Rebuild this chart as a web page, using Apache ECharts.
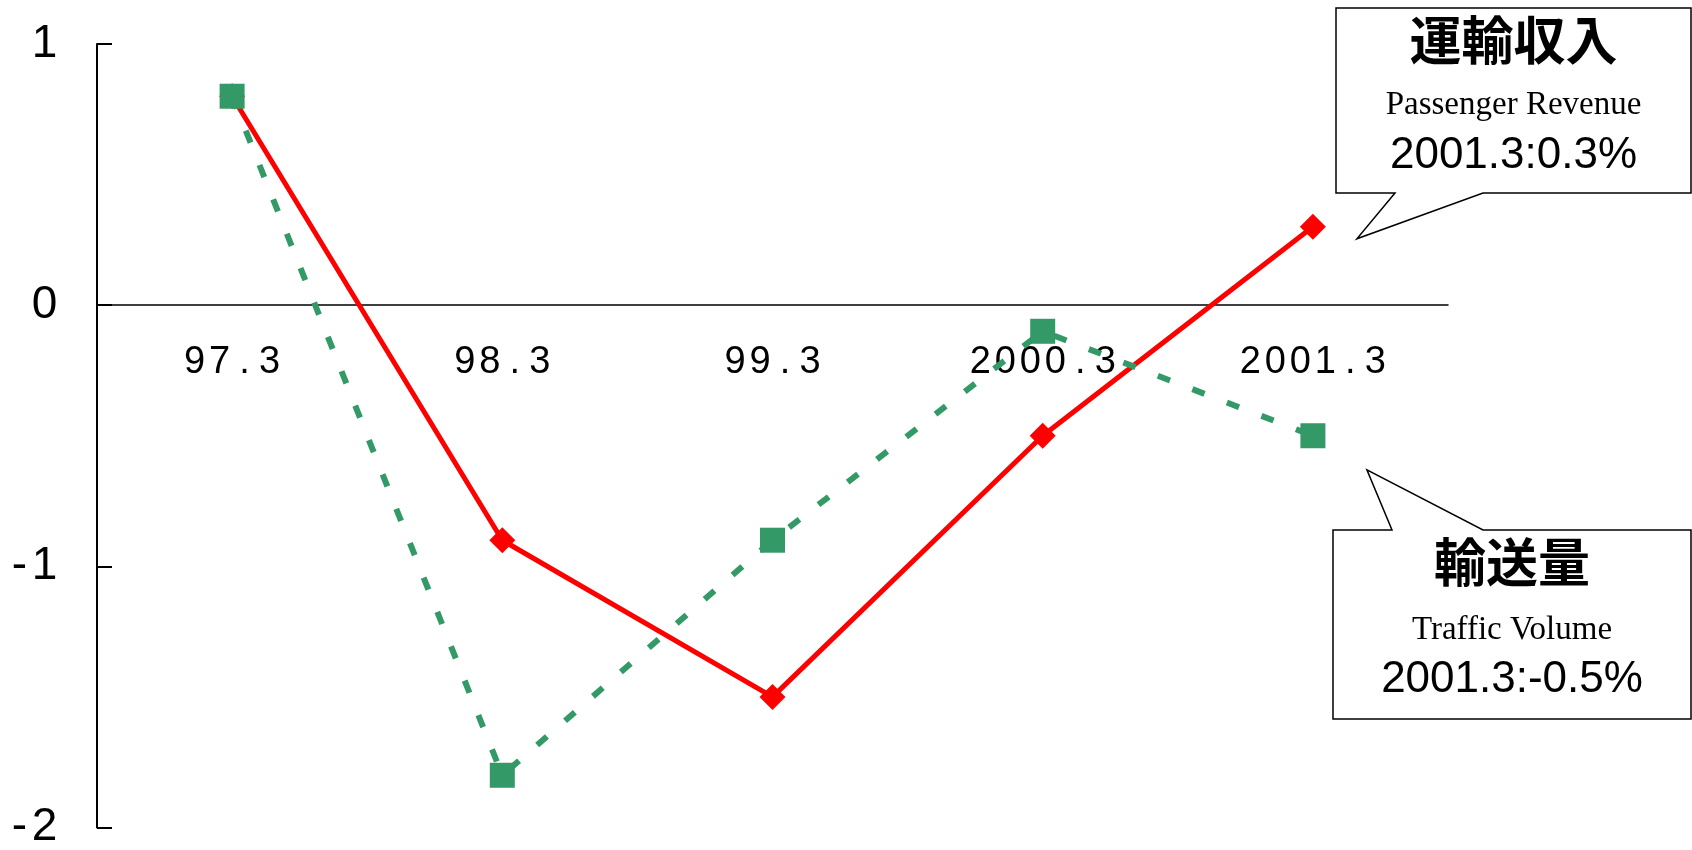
<!DOCTYPE html>
<html>
<head>
<meta charset="utf-8">
<title>運輸収入・輸送量</title>
<script src="https://cdn.jsdelivr.net/npm/echarts@6/dist/echarts.min.js"></script>
<style>
  html, body { margin: 0; padding: 0; background: #fff; }
  #chart { width: 1692px; height: 850px; }
</style>
</head>
<body>
<div id="chart"></div>
<script>
// Fiscal periods (March of each year)
const categories = ['97.3', '98.3', '99.3', '2000.3', '2001.3'];
// 運輸収入 (passenger revenue), % change
const revenue = [0.8, -0.9, -1.5, -0.5, 0.3];
// 輸送量 (traffic volume), % change
const volume = [0.8, -1.8, -0.9, -0.1, -0.5];
// Value axis range
const yMin = -2;
const yMax = 1;
const yStep = 1;
// Callout texts
const revenueTitle = '運輸収入';
const revenueSub = 'Passenger Revenue';
const volumeTitle = '輸送量';
const volumeSub = 'Traffic Volume';

const RED = '#ff0000';
const GREEN = '#339966';

const GRID = { left: 97, right: 244, top: 44, bottom: 22.5 };
const H = 850;

// Split a label into fixed-width cells so the characters sit evenly spaced
function cells(str, key) {
  return String(str).split('').map(ch => '{' + key + '|' + ch + '}').join('');
}

const chart = echarts.init(document.getElementById('chart'), null, { renderer: 'canvas' });

chart.setOption({
  animation: false,
  backgroundColor: '#ffffff',
  grid: Object.assign({ containLabel: false, outerBoundsMode: 'none' }, GRID),
  xAxis: {
    type: 'category',
    data: categories,
    boundaryGap: true,
    axisLine: { onZero: false, lineStyle: { color: '#000', width: 1.5 } },
    axisTick: { show: false },
    axisLabel: {
      margin: 35,
      formatter: v => cells(v, 'c'),
      rich: {
        c: { width: 25, align: 'center', fontSize: 38, fontFamily: 'Liberation Sans, Arial, sans-serif', color: '#000', lineHeight: 44 }
      }
    },
    splitLine: { show: false }
  },
  yAxis: {
    type: 'value',
    min: yMin,
    max: yMax,
    interval: yStep,
    axisLine: { show: true, onZero: false, lineStyle: { color: '#000', width: 2 } },
    axisTick: { show: true, inside: true, length: 15, lineStyle: { color: '#000', width: 2 } },
    axisLabel: {
      margin: 40,
      formatter: v => cells(v, 'd'),
      rich: {
        d: { width: 25, align: 'center', fontSize: 46, fontFamily: 'Liberation Sans, Arial, sans-serif', color: '#000', lineHeight: 50 }
      }
    },
    splitLine: { show: false }
  },
  series: [
    {
      name: revenueTitle,
      type: 'line',
      data: revenue,
      symbol: 'diamond',
      symbolSize: 26,
      itemStyle: { color: RED },
      lineStyle: { color: RED, width: 5 },
      z: 2
    },
    {
      name: volumeTitle,
      type: 'line',
      data: volume,
      symbol: 'rect',
      symbolSize: 25,
      itemStyle: { color: GREEN },
      lineStyle: { color: GREEN, width: 6, type: [13, 24], cap: 'butt' },
      z: 3
    }
  ]
});

// Move the category axis (line and labels) up to the zero level
const zeroY = chart.convertToPixel({ yAxisIndex: 0 }, 0);
const bottomY = H - GRID.bottom;
chart.setOption({ xAxis: { offset: zeroY - bottomY } });

// Speech-bubble callouts pointing at the latest values
const last = categories.length - 1;
const revTip = chart.convertToPixel({ seriesIndex: 0 }, [categories[last], revenue[last]]);
const volTip = chart.convertToPixel({ seriesIndex: 1 }, [categories[last], volume[last]]);

const boxStyle = { fill: '#ffffff', stroke: '#000000', lineWidth: 1.5 };
const titleFont = 'bold 52px "Noto Sans CJK JP", sans-serif';
const subFont = '33px "Liberation Serif", "Times New Roman", serif';
const valueFont = '44px "Liberation Sans", Arial, sans-serif';

function textEl(x, y, text, font) {
  return {
    type: 'text', x: x, y: y, z: 101,
    style: { text: text, font: font, fill: '#000', align: 'center', verticalAlign: 'middle' }
  };
}

// Upper bubble (revenue): box with tail hanging below-left
const b1 = { l: 1336, t: 8, r: 1691, b: 193 };
const tip1 = [revTip[0] + 44, revTip[1] + 12];
// Lower bubble (volume): box with tail rising above-left
const b2 = { l: 1333, t: 530, r: 1691, b: 719 };
const tip2 = [volTip[0] + 54, volTip[1] + 34];

const cx1 = (b1.l + b1.r) / 2;
const cx2 = (b2.l + b2.r) / 2;

chart.setOption({
  graphic: [
    {
      type: 'polygon', z: 100,
      shape: { points: [[b1.l, b1.t], [b1.r, b1.t], [b1.r, b1.b], [1483, b1.b], tip1, [1395, b1.b], [b1.l, b1.b]] },
      style: boxStyle
    },
    textEl(cx1, b1.t + 32, revenueTitle, titleFont),
    textEl(cx1, b1.t + 97, revenueSub, subFont),
    textEl(cx1, b1.t + 148, categories[last] + ':' + revenue[last] + '%', valueFont),
    {
      type: 'polygon', z: 100,
      shape: { points: [[b2.l, b2.t], [1392, b2.t], tip2, [1483, b2.t], [b2.r, b2.t], [b2.r, b2.b], [b2.l, b2.b]] },
      style: boxStyle
    },
    textEl(cx2, b2.t + 32, volumeTitle, titleFont),
    textEl(cx2, b2.t + 100, volumeSub, subFont),
    textEl(cx2, b2.t + 150, categories[last] + ':' + volume[last] + '%', valueFont)
  ]
});
</script>
</body>
</html>
